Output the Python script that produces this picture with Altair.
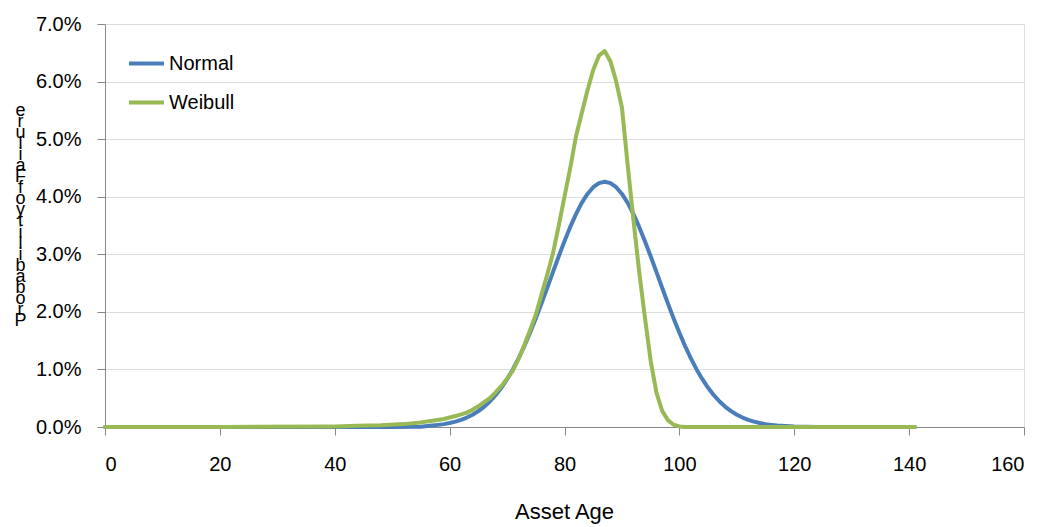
import altair as alt
import pandas as pd

# Normal distribution series (age, probability in %)
normal_age = [0, 20, 40, 50, 55, 57, 58, 59, 60, 61, 62, 63, 64, 65, 66, 67, 68, 69, 70,
              71, 72, 73, 74, 75, 76, 77, 78, 79, 80, 81, 82, 83, 84, 85, 86, 87, 88,
              89, 90, 91, 92, 93, 94, 95, 96, 97, 98, 99, 100, 101, 102, 103, 104, 105,
              106, 107, 108, 109, 110, 111, 112, 113, 114, 115, 116, 117, 120, 124, 130, 141]
normal_pct = [0.0, 0.0, 0.0, 0.0, 0.005, 0.026, 0.037, 0.050, 0.069, 0.093, 0.124, 0.164,
              0.213, 0.275, 0.351, 0.443, 0.552, 0.681, 0.830, 1.000, 1.193, 1.405, 1.637,
              1.886, 2.148, 2.419, 2.694, 2.966, 3.228, 3.475, 3.698, 3.892, 4.048, 4.165,
              4.236, 4.260, 4.236, 4.165, 4.048, 3.892, 3.698, 3.475, 3.228, 2.966, 2.694,
              2.419, 2.148, 1.886, 1.637, 1.405, 1.193, 1.000, 0.830, 0.681, 0.552, 0.443,
              0.351, 0.275, 0.213, 0.164, 0.124, 0.093, 0.069, 0.050, 0.037, 0.026, 0.008,
              0.002, 0.0, 0.0]

# Weibull distribution series (age, probability in %)
weibull_age = [0, 20, 40, 44, 48, 52, 55, 57, 59, 61, 62, 63, 64, 65, 66, 67, 68, 69, 70,
               71, 72, 73, 74, 75, 76, 77, 78, 79, 80, 81, 82, 83, 84, 85, 86, 87, 88,
               89, 90, 91, 92, 93, 94, 95, 96, 97, 98, 99, 100, 101, 110, 120, 130, 141]
weibull_pct = [0.0, 0.0, 0.01, 0.02, 0.03, 0.05, 0.08, 0.11, 0.14, 0.19, 0.22, 0.25, 0.30,
               0.36, 0.43, 0.50, 0.60, 0.71, 0.84, 0.98, 1.18, 1.42, 1.68, 1.95, 2.30, 2.65,
               3.02, 3.50, 4.00, 4.50, 5.05, 5.45, 5.85, 6.20, 6.45, 6.53, 6.35, 6.00, 5.55,
               4.55, 3.60, 2.70, 1.90, 1.15, 0.60, 0.28, 0.12, 0.04, 0.01, 0.0, 0.0, 0.0,
               0.0, 0.0]

series_names = ["Normal", "Weibull"]
series_colors = ["#4A7EBB", "#98B954"]
x_ticks = [0, 20, 40, 60, 80, 100, 120, 140, 160]
y_ticks = [0.0, 0.01, 0.02, 0.03, 0.04, 0.05, 0.06, 0.07]
y_title = "Probability of Failure"

rows = []
for a, p in zip(normal_age, normal_pct):
    rows.append({"age": a, "prob": p / 100.0, "series": "Normal", "order": 0})
for a, p in zip(weibull_age, weibull_pct):
    rows.append({"age": a, "prob": p / 100.0, "series": "Weibull", "order": 1})
df = pd.DataFrame(rows)

FONT = "Liberation Sans"
GRAY = "#868686"

# stacked, upright letters (reading bottom to top), as in the reference
y_title_lines = [c for c in reversed(y_title)]

chart = alt.Chart(df).mark_line(strokeWidth=4, strokeCap="round", strokeJoin="round").encode(
    x=alt.X("age:Q",
            scale=alt.Scale(domain=[0, 160], nice=False, zero=True),
            axis=alt.Axis(values=x_ticks, title="Asset Age", grid=False,
                          labelFontSize=20, labelPadding=19, tickSize=8,
                          titleFontSize=22, titleFontWeight="normal", titleY=91,
                          titleBaseline="alphabetic", titleX=459)),
    y=alt.Y("prob:Q",
            scale=alt.Scale(domain=[0, 0.07], nice=False),
            axis=alt.Axis(values=y_ticks, format=".1%", title=y_title_lines,
                          labelFontSize=20, labelPadding=16, tickSize=8,
                          titleAngle=0, titleFontSize=18, titleFontWeight="normal",
                          titleLineHeight=11.1,
                          titleX=-85, titleY=91, titleAlign="center",
                          titleBaseline="alphabetic")),
    color=alt.Color("series:N",
                    scale=alt.Scale(domain=series_names, range=series_colors),
                    legend=alt.Legend(orient="none", legendX=22, legendY=20, title=None,
                                      symbolType="stroke", symbolSize=1225,
                                      symbolStrokeWidth=4, labelFontSize=20,
                                      labelOffset=3, rowPadding=9, labelFont=FONT,
                                      labelColor="black")),
    order=alt.Order("order:Q"),
    detail="series:N",
).properties(
    width=919,
    height=403,
    autosize=alt.AutoSizeParams(type="none"),
    padding={"left": 105, "top": 24, "right": 31, "bottom": 100},
).configure_axis(
    labelFont=FONT,
    titleFont=FONT,
    labelColor="black",
    titleColor="black",
    titleFontWeight="normal",
    domainColor=GRAY,
    domainWidth=2,
    tickColor=GRAY,
    tickWidth=2,
    gridColor=GRAY,
    gridWidth=2,
).configure_view(
    stroke=None,
).configure(
    background="white",
)

chart.save("out.html", embed_options={"renderer": "svg", "actions": False})
